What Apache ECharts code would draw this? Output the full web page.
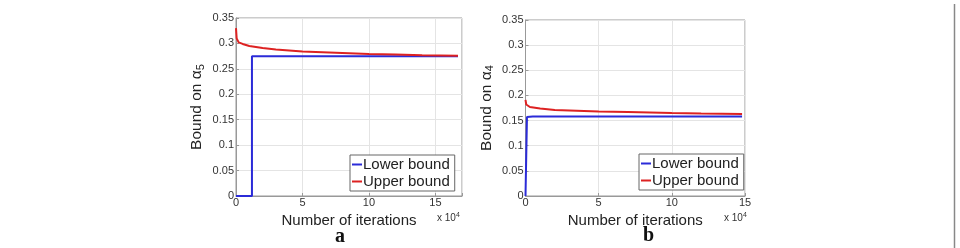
<!DOCTYPE html>
<html>
<head>
<meta charset="utf-8">
<script src="https://cdn.jsdelivr.net/npm/echarts@6/dist/echarts.min.js"></script>
<style>
  html, body { margin: 0; padding: 0; background: #fff; }
  #chart { width: 960px; height: 248px; }
</style>
</head>
<body>
<div id="chart"></div>
<script>
// panel a: bounds on alpha5 (x in units of 10^4 iterations)
const lowerA = [[0, 0], [1.2, 0], [1.2, 0.275], [16.7, 0.275]];
const upperA = [[0, 0.33], [0.05, 0.31], [0.2, 0.302], [0.5, 0.299], [1, 0.295], [2, 0.291], [3, 0.288],
  [4, 0.286], [5, 0.284], [6, 0.283], [8, 0.281], [10, 0.279], [12, 0.278], [14, 0.277], [16.7, 0.276]];
// panel b: bounds on alpha4
const lowerB = [[0, 0], [0.1, 0.157], [0.5, 0.158], [14.8, 0.158]];
const upperB = [[0, 0.191], [0.05, 0.182], [0.3, 0.177], [1, 0.174], [2, 0.171], [3, 0.17], [5, 0.168],
  [7, 0.167], [10, 0.165], [12, 0.164], [14.8, 0.163]];
const xMax = [17, 15];
const panelLabels = ['a', 'b'];
const yNames = ['Bound on α{sub|5}', 'Bound on α{sub|4}'];

const chart = echarts.init(document.getElementById('chart'));
const font = 'Liberation Sans, Arial, sans-serif';
const blue = '#2b2bd8';
const red = '#dd2222';

function xAxis(i) {
  return {
    type: 'value', gridIndex: i, min: 0, max: xMax[i], interval: 5,
    name: 'Number of iterations', nameLocation: 'middle', nameGap: 13,
    nameTextStyle: { fontFamily: font, fontSize: 15, color: '#222' },
    axisLine: { lineStyle: { color: '#999' } },
    axisTick: { inside: true, length: 3, lineStyle: { color: '#999' } },
    axisLabel: { fontFamily: font, fontSize: 11, color: '#333', margin: 1,
      formatter: v => (v % 5 === 0 ? String(v) : '') },
    splitLine: { show: true, lineStyle: { color: '#e4e4e4' } }
  };
}
function yAxis(i) {
  return {
    type: 'value', gridIndex: i, min: 0, max: 0.35, interval: 0.05,
    name: yNames[i], nameLocation: 'middle', nameGap: 30,
    nameTextStyle: { fontFamily: font, fontSize: 15.5, color: '#222',
      rich: { sub: { fontFamily: font, fontSize: 11, color: '#222', verticalAlign: 'bottom', padding: [7, 0, 0, 0] } } },
    axisLine: { lineStyle: { color: '#999' } },
    axisTick: { inside: true, length: 3, lineStyle: { color: '#999' } },
    axisLabel: { fontFamily: font, fontSize: 11, color: '#333', margin: 2 },
    splitLine: { show: true, lineStyle: { color: '#e4e4e4' } }
  };
}
function line(name, data, i, color) {
  return {
    name: name, type: 'line', xAxisIndex: i, yAxisIndex: i, data: data,
    symbol: 'none', lineStyle: { color: color, width: 2 }, itemStyle: { color: color },
    animation: false, silent: true
  };
}
function legend(i, left, top) {
  return {
    data: ['Lower bound', 'Upper bound'], orient: 'vertical', left: left, top: top,
    icon: 'rect', itemWidth: 10, itemHeight: 2, itemGap: 2,
    padding: [2, 5, 2, 2], borderColor: '#666', borderWidth: 1, backgroundColor: '#fff',
    textStyle: { fontFamily: font, fontSize: 15, color: '#222', padding: [0, 0, 0, -4] }
  };
}
function xTen(x) {
  return { type: 'text', left: x, top: 212,
    style: { text: 'x 10{sup|4}', fontFamily: font, fontSize: 10, fill: '#333',
      rich: { sup: { fontSize: 7, verticalAlign: 'top', padding: [0, 0, 6, 0] } } } };
}

const option = {
  backgroundColor: '#fff',
  grid: [
    { left: 236, top: 18, width: 226, height: 178, show: true, borderColor: '#999', borderWidth: 1 },
    { left: 525.5, top: 20, width: 219.5, height: 176, show: true, borderColor: '#999', borderWidth: 1 }
  ],
  xAxis: [xAxis(0), xAxis(1)],
  yAxis: [yAxis(0), yAxis(1)],
  legend: [legend(0, 350, 155), legend(1, 639, 154)],
  series: [
    line('Lower bound', lowerA, 0, blue),
    line('Upper bound', upperA, 0, red),
    line('Lower bound', lowerB, 1, blue),
    line('Upper bound', upperB, 1, red)
  ],
  graphic: [
    xTen(437), xTen(724),
    { type: 'text', left: 335, top: 227, style: { text: panelLabels[0], fontFamily: 'Liberation Serif, serif', fontWeight: 'bold', fontSize: 20, fill: '#111' } },
    { type: 'text', left: 643, top: 226, style: { text: panelLabels[1], fontFamily: 'Liberation Serif, serif', fontWeight: 'bold', fontSize: 20, fill: '#111' } },
    { type: 'line', shape: { x1: 954.5, y1: 4, x2: 954.5, y2: 248 }, style: { stroke: '#888', lineWidth: 1.5 } }
  ]
};
chart.setOption(option);
</script>
</body>
</html>
